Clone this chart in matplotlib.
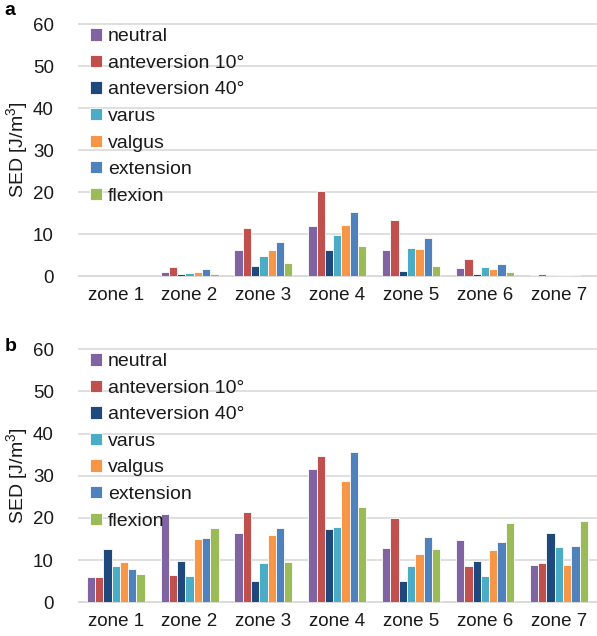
import numpy as np
import matplotlib
matplotlib.use('Agg')
import matplotlib.pyplot as plt

plt.rcParams['font.family'] = ['Liberation Sans', 'DejaVu Sans']
plt.rcParams['mathtext.fontset'] = 'custom'
plt.rcParams['mathtext.rm'] = 'Liberation Sans'

zones = ['zone 1', 'zone 2', 'zone 3', 'zone 4', 'zone 5', 'zone 6', 'zone 7']
series = ['neutral', 'anteversion 10°', 'anteversion 40°', 'varus', 'valgus', 'extension', 'flexion']
colors = ['#8064A2', '#C0504D', '#1F497D', '#4BACC6', '#F79646', '#4F81BD', '#9BBB59']

# panel a
neutral_a = [0.05, 1.0, 6.1, 11.9, 6.1, 2.0, 0.25]
ante10_a = [0.05, 2.1, 11.4, 20.3, 13.4, 4.1, 0.55]
ante40_a = [0.03, 0.4, 2.4, 6.2, 1.1, 0.5, 0.15]
varus_a = [0.03, 0.7, 4.8, 9.8, 6.7, 2.1, 0.15]
valgus_a = [0.03, 0.9, 6.1, 12.2, 6.4, 1.7, 0.15]
extension_a = [0.05, 1.6, 8.1, 15.2, 9.0, 2.8, 0.2]
flexion_a = [0.03, 0.6, 3.0, 7.2, 2.3, 1.0, 0.1]

# panel b
neutral_b = [5.9, 20.9, 16.4, 31.7, 12.8, 14.7, 8.9]
ante10_b = [6.1, 6.5, 21.3, 34.6, 20.0, 8.5, 9.2]
ante40_b = [12.6, 9.8, 5.0, 17.4, 5.0, 9.9, 16.4]
varus_b = [8.6, 6.2, 9.2, 17.9, 8.7, 6.2, 13.0]
valgus_b = [9.6, 14.9, 16.0, 28.8, 11.4, 12.4, 8.9]
extension_b = [7.8, 15.3, 17.7, 35.7, 15.4, 14.3, 13.4]
flexion_b = [6.8, 17.5, 9.5, 22.5, 12.6, 18.8, 19.2]

data_a = [neutral_a, ante10_a, ante40_a, varus_a, valgus_a, extension_a, flexion_a]
data_b = [neutral_b, ante10_b, ante40_b, varus_b, valgus_b, extension_b, flexion_b]


def draw_panel(ax, data):
    x = np.arange(len(zones))
    w = 0.112
    for i, (vals, c, name) in enumerate(zip(data, colors, series)):
        ax.bar(x + (i - 3) * w, vals, w, color=c, edgecolor='white',
               linewidth=0.6, label=name, zorder=3)
    ax.set_xlim(-0.5, 6.5)
    ax.set_ylim(0, 60)
    ax.set_yticks(range(0, 61, 10))
    ax.set_xticks(x)
    ax.set_xticklabels(zones)
    ax.tick_params(axis='both', length=0, labelsize=13.5, colors='#1a1a1a')
    ax.tick_params(axis='x', pad=8)
    ax.tick_params(axis='y', pad=18)
    ax.grid(axis='y', color='#d9d9d9', linewidth=1.2, zorder=0)
    for s in ['top', 'right', 'left']:
        ax.spines[s].set_visible(False)
    ax.spines['bottom'].set_color('#d9d9d9')
    ax.spines['bottom'].set_linewidth(1.2)
    ax.set_ylabel('SED [J/m$^3$]', fontsize=14, color='#1a1a1a')
    ax.yaxis.set_label_coords(-0.092, 0.5)
    leg = ax.legend(loc='upper left', bbox_to_anchor=(0.0, 1.03), frameon=False,
                    fontsize=14, handlelength=0.6, handleheight=0.6,
                    handletextpad=0.3, labelspacing=0.49, borderaxespad=0.2)
    for t in leg.get_texts():
        t.set_color('#1a1a1a')
    for ln in ax.get_ygridlines():
        ln.set_clip_on(False)


fig = plt.figure(figsize=(5.97, 6.36), dpi=100)
ax1 = fig.add_axes([0.132, 0.566, 0.866, 0.396])
ax2 = fig.add_axes([0.132, 0.053, 0.866, 0.398])
draw_panel(ax1, data_a)
draw_panel(ax2, data_b)

fig.text(0.008, 0.983, 'a', fontsize=14, fontweight='bold', va='center')
fig.text(0.008, 0.455, 'b', fontsize=14, fontweight='bold', va='center')

fig.savefig('out.png', dpi=100)
